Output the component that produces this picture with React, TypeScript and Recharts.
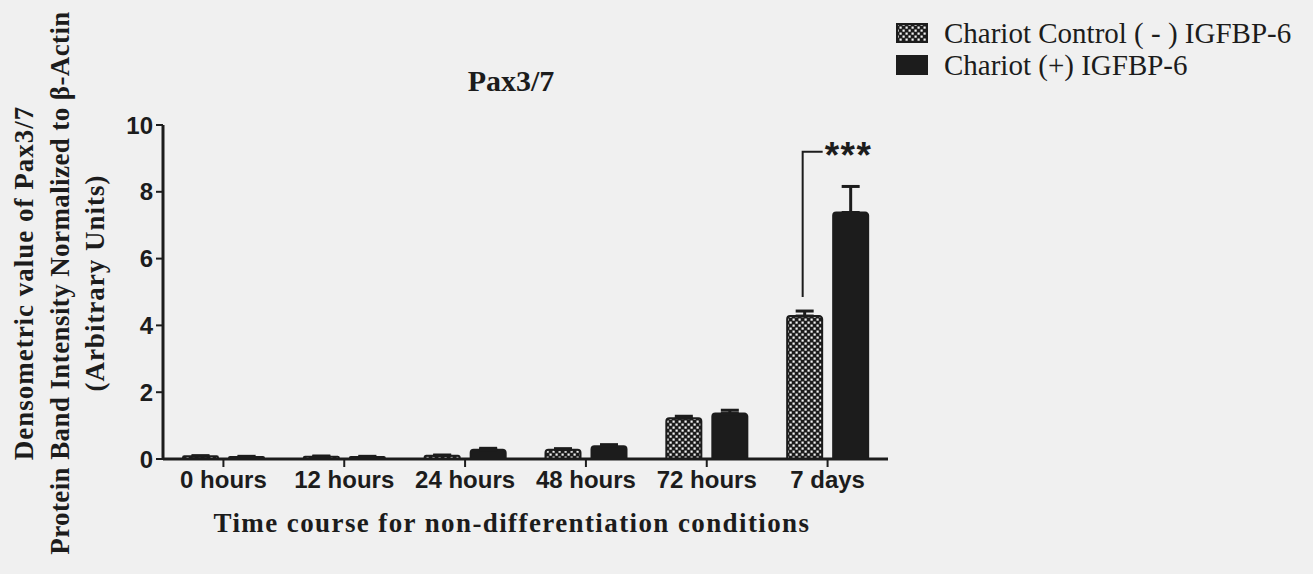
import { BarChart, Bar, XAxis, YAxis, ErrorBar, LabelList, Legend } from "recharts";

const categories = ["0 hours", "12 hours", "24 hours", "48 hours", "72 hours", "7 days"];
const controlMean = [0.08, 0.07, 0.1, 0.28, 1.22, 4.28];
const controlSem = [0.02, 0.02, 0.02, 0.03, 0.06, 0.15];
const treatedMean = [0.06, 0.06, 0.28, 0.38, 1.36, 7.38];
const treatedSem = [0.02, 0.02, 0.04, 0.05, 0.1, 0.78];
const yTicks = [0, 2, 4, 6, 8, 10];
// significance bracket for 7 days: from / to (axis units)
const sigFrom = [null, null, null, null, null, 4.85];
const sigTo = [null, null, null, null, null, 9.2];

const seriesNames = ["Chariot Control ( - ) IGFBP-6", "Chariot (+) IGFBP-6"];

const data = categories.map((name, i) => ({
  name,
  control: controlMean[i],
  controlErr: [0, controlSem[i]],
  treated: treatedMean[i],
  treatedErr: [0, treatedSem[i]],
  sig: sigTo[i],
}));

const BG = "#f0f0f0";
const INK = "#1c1c1c";
const SERIF = "'Liberation Serif', 'Times New Roman', serif";
const SANS = "'Liberation Sans', Arial, sans-serif";

function SigBracket(props: any) {
  const { x, y, width, height, value, index } = props;
  if (value == null) return null;
  const base = y + height;
  const ppu = height / controlMean[index];
  const cx = x + width / 2 - 2;
  const yLow = base - (sigFrom[index] as number) * ppu;
  const yTop = base - value * ppu;
  return (
    <g>
      <polyline
        points={`${cx},${yLow} ${cx},${yTop} ${cx + 20},${yTop}`}
        fill="none"
        stroke={INK}
        strokeWidth={2}
      />
      <text x={cx + 22} y={yTop + 16} fontFamily={SANS} fontWeight="bold" fontSize={37} letterSpacing={1.5} fill={INK}>
        ***
      </text>
    </g>
  );
}

function LegendBox() {
  return (
    <div style={{ fontFamily: SERIF, fontSize: 29, color: INK, lineHeight: "32px" }}>
      {seriesNames.map((n, i) => (
        <div key={n} style={{ display: "flex", alignItems: "center" }}>
          <svg width={32} height={20} style={{ marginRight: 16 }}>
            <rect x={1} y={1} width={30} height={18} fill={i === 0 ? "url(#checker)" : INK} stroke={INK} strokeWidth={2} />
          </svg>
          <span>{n}</span>
        </div>
      ))}
    </div>
  );
}

const yLabelLines = [
  { t: "Densometric value of Pax3/7", x: 24, ls: 1 },
  { t: "Protein Band Intensity Normalized to β-Actin", x: 60, ls: 0.4 },
  { t: "(Arbitrary Units)", x: 95, ls: 1 },
];

export default function App() {
  return (
    <div style={{ position: "absolute", left: 0, top: 0, width: 1313, height: 574, background: BG, overflow: "hidden" }}>
      <BarChart
        width={1313}
        height={574}
        data={data}
        margin={{ top: 125, right: 425, bottom: 75, left: 103 }}
        barSize={35}
        barGap={11}
      >
        <defs>
          <pattern id="checker" width={6} height={6} patternUnits="userSpaceOnUse">
            <rect width={6} height={6} fill={INK} />
            <rect x={0.5} y={0.5} width={2.2} height={2.2} fill="#f4f4f4" />
            <rect x={3.5} y={3.5} width={2.2} height={2.2} fill="#f4f4f4" />
          </pattern>
        </defs>
        <XAxis
          dataKey="name"
          height={40}
          axisLine={{ stroke: INK, strokeWidth: 3 }}
          tickLine={{ stroke: INK, strokeWidth: 2 }}
          tickSize={8}
          tickMargin={4}
          tick={{ fill: INK, fontFamily: SANS, fontWeight: "bold", fontSize: 24 }}
          interval={0}
        />
        <YAxis
          width={60}
          domain={[0, 10]}
          ticks={yTicks}
          axisLine={{ stroke: INK, strokeWidth: 3 }}
          tickLine={{ stroke: INK, strokeWidth: 2 }}
          tickSize={7}
          tickMargin={3}
          tick={{ fill: INK, fontFamily: SANS, fontWeight: "bold", fontSize: 24 }}
        />
        <Legend
          layout="vertical"
          align="center"
          verticalAlign="middle"
          content={() => <LegendBox />}
          wrapperStyle={{ position: "absolute", left: 896, top: 17, width: 420, height: 70 }}
        />
        <Bar
          dataKey="control"
          name={seriesNames[0]}
          fill="url(#checker)"
          stroke={INK}
          strokeWidth={2}
          radius={[3, 3, 0, 0]}
          isAnimationActive={false}
        >
          <ErrorBar dataKey="controlErr" direction="y" width={9} stroke={INK} strokeWidth={3} />
          <LabelList dataKey="sig" content={SigBracket} />
        </Bar>
        <Bar
          dataKey="treated"
          name={seriesNames[1]}
          fill={INK}
          stroke={INK}
          strokeWidth={2}
          radius={[3, 3, 0, 0]}
          isAnimationActive={false}
        >
          <ErrorBar dataKey="treatedErr" direction="y" width={9} stroke={INK} strokeWidth={3} />
        </Bar>
      </BarChart>
      <svg
        width={1313}
        height={574}
        style={{ position: "absolute", left: 0, top: 0, pointerEvents: "none" }}
      >
        <text x={511} y={80} textAnchor="middle" dominantBaseline="central" fontFamily={SERIF} fontWeight="bold" fontSize={30} fill={INK}>
          Pax3/7
        </text>
        <text x={512} y={523} textAnchor="middle" dominantBaseline="central" fontFamily={SERIF} fontWeight="bold" fontSize={27} letterSpacing={1.4} fill={INK}>
          Time course for non-differentiation conditions
        </text>
        {yLabelLines.map((l) => (
          <text
            key={l.t}
            x={l.x}
            y={283}
            transform={`rotate(-90 ${l.x} 283)`}
            textAnchor="middle"
            dominantBaseline="central"
            fontFamily={SERIF}
            fontWeight="bold"
            fontSize={27}
            letterSpacing={l.ls}
            fill={INK}
          >
            {l.t}
          </text>
        ))}
      </svg>
    </div>
  );
}
